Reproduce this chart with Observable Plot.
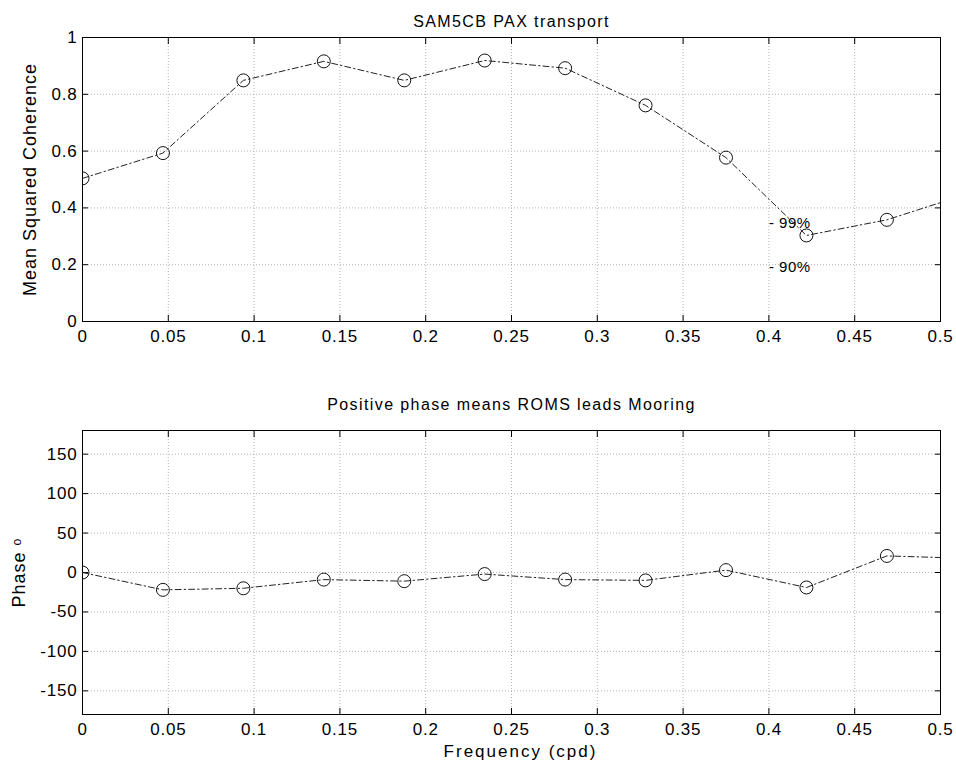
<!DOCTYPE html>
<html>
<head>
<meta charset="utf-8">
<script src="https://cdn.jsdelivr.net/npm/d3@7"></script>
<script src="https://cdn.jsdelivr.net/npm/@observablehq/plot@0.6"></script>
<style>
  html, body { margin: 0; padding: 0; background: #fff; }
  svg { display: block; }
  svg text { letter-spacing: 0.8px; }
  g[aria-label="y-axis label"] text { letter-spacing: 1px; }
  g[aria-label="x-axis label"] text { letter-spacing: 2px; }
</style>
</head>
<body>
<div id="top"></div>
<div id="bottom"></div>
<script>
// frequency (cpd) of each spectral estimate (last one lies just beyond the axis)
const freq = [0, 0.046875, 0.09375, 0.140625, 0.1875, 0.234375, 0.28125, 0.328125, 0.375, 0.421875, 0.46875, 0.515625];
// mean squared coherence
const coherence = [0.504, 0.593, 0.849, 0.916, 0.849, 0.919, 0.892, 0.761, 0.577, 0.303, 0.358, 0.449];
// phase (degrees)
const phase = [0, -22, -20, -9, -11, -2, -9, -10, 3, -19, 21, 18];
// confidence level labels
const confLabels = ["- 99%", "- 90%"];
const confLevels = [0.345, 0.19];
const confFreq = [0.4, 0.4];

const xTicks = [0, 0.05, 0.1, 0.15, 0.2, 0.25, 0.3, 0.35, 0.4, 0.45, 0.5];
const cohTicks = [0, 0.2, 0.4, 0.6, 0.8, 1];
const phaseTicks = [-150, -100, -50, 0, 50, 100, 150];

const topTitle = "SAM5CB PAX transport";
const bottomTitle = "Positive phase means ROMS leads Mooring";
const cohLabel = "Mean Squared Coherence";
const phaseLabel = "Phase ᵒ";
const freqLabel = "Frequency (cpd)";

const rows = freq.map((f, i) => ({f, c: coherence[i], p: phase[i]}));
const conf = confLabels.map((t, i) => ({t, f: confFreq[i], c: confLevels[i]}));

const fmt = d => String(+d.toFixed(2));
const blank = () => "";
const font = "'Liberation Sans', Arial, Helvetica, sans-serif";
const gridStyle = {stroke: "#b4b4b4", strokeOpacity: 1, strokeDasharray: "1,2"};
const lineStyle = {stroke: "#222", strokeWidth: 1, strokeDasharray: "6,3,1.5,3", clip: true};
const dotStyle = {r: 6.5, stroke: "#111", fill: "none", strokeWidth: 1, clip: true};

function panel({yTicks, yDomain, yKey, title, ylabel, ylabelOffset, xlabel, height, marginTop, marginBottom, extra = []}) {
  const svg = Plot.plot({
    width: 956,
    height,
    marginLeft: 82,
    marginRight: 16,
    marginTop,
    marginBottom,
    style: {fontFamily: font, fontSize: "17px", color: "#000", background: "#fff"},
    x: {domain: [0, 0.5]},
    y: {domain: yDomain},
    marks: [
      Plot.gridX(xTicks, gridStyle),
      Plot.gridY(yTicks, gridStyle),
      Plot.axisX(xTicks, {anchor: "bottom", tickSize: 0, tickPadding: 8, tickFormat: fmt, fontSize: 17, label: null}),
      xlabel ? Plot.axisX(xTicks, {anchor: "bottom", tickSize: 0, tickFormat: blank, fontSize: 17, label: xlabel, labelAnchor: "center", labelArrow: "none", labelOffset: 42}) : null,
      Plot.axisX(xTicks, {anchor: "bottom", tickSize: -6, tickFormat: blank, label: null}),
      Plot.axisX(xTicks, {anchor: "top", tickSize: -6, tickFormat: blank, label: null}),
      Plot.axisY(yTicks, {anchor: "left", tickSize: 0, tickPadding: 5, tickFormat: fmt, fontSize: 17, label: null}),
      Plot.axisY(yTicks, {anchor: "left", tickSize: 0, tickFormat: blank, fontSize: 18, label: ylabel, labelAnchor: "center", labelArrow: "none", labelOffset: ylabelOffset}),
      Plot.axisY(yTicks, {anchor: "left", tickSize: -6, tickFormat: blank, label: null}),
      Plot.axisY(yTicks, {anchor: "right", tickSize: -6, tickFormat: blank, label: null}),
      Plot.frame({stroke: "#000", strokeWidth: 1}),
      Plot.line(rows, {x: "f", y: yKey, ...lineStyle}),
      Plot.dot(rows, {x: "f", y: yKey, ...dotStyle}),
      ...extra,
      Plot.text([title], {frameAnchor: "top", dy: -(marginTop - 15), text: d => d, fontSize: 16, fill: "#000"})
    ]
  });
  // MATLAB-like wider text rendering
  d3.select(svg).selectAll("text").each(function() {
    const t = this.textContent;
    if (t === title) this.style.letterSpacing = "1.4px";
    else if (t === xlabel) { this.style.letterSpacing = "2px"; this.setAttribute("dx", "9"); }
    else if (confLabels.includes(t)) this.style.letterSpacing = "0.5px";
  });
  return svg;
}

document.getElementById("top").append(panel({
  yTicks: cohTicks, yDomain: [0, 1], yKey: "c",
  title: topTitle, ylabel: cohLabel, ylabelOffset: 59, xlabel: null,
  height: 383, marginTop: 37, marginBottom: 62,
  extra: [Plot.text(conf, {x: "f", y: "c", text: "t", textAnchor: "start", fontSize: 15, fill: "#000"})]
}));

document.getElementById("bottom").append(panel({
  yTicks: phaseTicks, yDomain: [-180, 180], yKey: "p",
  title: bottomTitle, ylabel: phaseLabel, ylabelOffset: 70, xlabel: freqLabel,
  height: 384, marginTop: 47, marginBottom: 53
}));
</script>
</body>
</html>
